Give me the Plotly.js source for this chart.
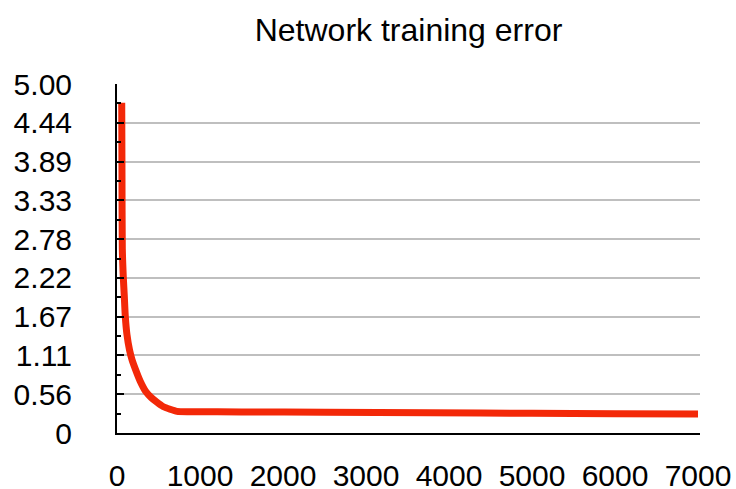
<!DOCTYPE html>
<html>
<head>
<meta charset="utf-8">
<script src="https://cdn.plot.ly/plotly-3.0.1.min.js"></script>
<style>html,body{margin:0;padding:0;background:#fff;}#chart{width:736px;height:489px;}</style>
</head>
<body>
<div id="chart"></div>
<script>
// Data
const iterations = [57, 60, 64, 76, 88, 100, 120, 151, 181, 223, 277, 349, 410, 482, 554, 639, 723, 880, 1500, 2500, 3770, 5000, 6000, 7000];
const errorValues = [4.73, 3.70, 2.64, 2.23, 1.96, 1.67, 1.41, 1.19, 1.05, 0.91, 0.75, 0.59, 0.51, 0.44, 0.38, 0.34, 0.31, 0.305, 0.302, 0.298, 0.290, 0.283, 0.277, 0.272];

const yTickVals = [0, 5/9, 10/9, 15/9, 20/9, 25/9, 30/9, 35/9, 40/9, 5];
const yTickText = ["0", "0.56", "1.11", "1.67", "2.22", "2.78", "3.33", "3.89", "4.44", "5.00"];
const xTickVals = [0, 1000, 2000, 3000, 4000, 5000, 6000, 7000];
const xTickText = ["0", "1000", "2000", "3000", "4000", "5000", "6000", "7000"];

const font = "Liberation Sans, Arial, Helvetica, sans-serif";

const trace = {
  x: iterations,
  y: errorValues,
  type: "scatter",
  mode: "lines",
  line: {color: "rgb(243,40,8)", width: 7, shape: "spline", smoothing: 0.6},
  hoverinfo: "skip"
};

const layout = {
  width: 736,
  height: 489,
  paper_bgcolor: "#fff",
  plot_bgcolor: "#fff",
  margin: {l: 117, r: 36, t: 84, b: 56, pad: 0},
  showlegend: false,
  font: {family: font, size: 30, color: "#000"},
  title: {
    text: "Network training error",
    font: {family: font, size: 32, color: "#000"},
    x: 0.5, xref: "paper", xanchor: "center",
    y: 0.94, yref: "container", yanchor: "middle"
  },
  xaxis: {
    range: [0, 7024],
    tickmode: "array",
    tickvals: xTickVals,
    ticktext: xTickText,
    showgrid: false,
    zeroline: false,
    showline: true,
    linecolor: "#000",
    linewidth: 2,
    ticks: "",
    ticklabelstandoff: 15,
    tickfont: {family: font, size: 30, color: "#000"}
  },
  yaxis: {
    range: [0, 5],
    tickmode: "array",
    tickvals: yTickVals,
    ticktext: yTickText,
    showgrid: true,
    gridcolor: "#bfbfbf",
    gridwidth: 2,
    zeroline: false,
    showline: true,
    linecolor: "#000",
    linewidth: 2,
    ticks: "inside",
    ticklen: 7,
    tickwidth: 2,
    tickcolor: "#000",
    ticklabelstandoff: 37,
    tickfont: {family: font, size: 30, color: "#000"},
    minor: {ticks: "inside", ticklen: 4, tickwidth: 2, tickcolor: "#000", tick0: 5/18, dtick: 5/9, showgrid: false}
  }
};

Plotly.newPlot("chart", [trace], layout, {staticPlot: true, displayModeBar: false});
</script>
</body>
</html>
